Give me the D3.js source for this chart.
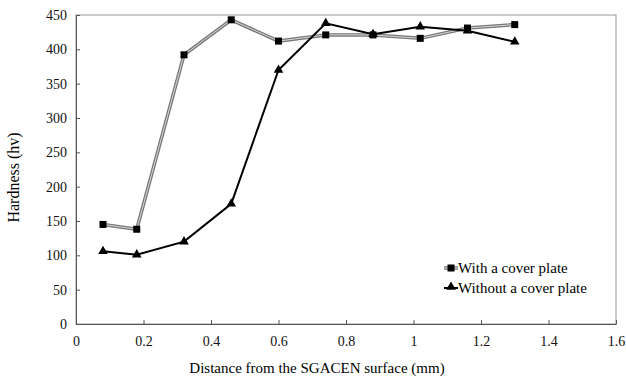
<!DOCTYPE html>
<html>
<head>
<meta charset="utf-8">
<script src="https://cdn.jsdelivr.net/npm/d3@7"></script>
<style>
  body { margin: 0; background: #fff; }
</style>
</head>
<body>
<div id="chart"></div>
<script>
// distance from surface (mm)
const distance = [0.08, 0.18, 0.32, 0.46, 0.60, 0.74, 0.88, 1.02, 1.16, 1.30];
const withCover = [145, 138, 392, 443, 412, 421, 421, 416, 431, 436];
const withoutCover = [106, 101, 120, 175, 370, 438, 422, 433, 427, 411];
const xTicks = [0, 0.2, 0.4, 0.6, 0.8, 1, 1.2, 1.4, 1.6];
const yTicks = [0, 50, 100, 150, 200, 250, 300, 350, 400, 450];

const FONT = "'Liberation Serif', 'DejaVu Serif', serif";
const width = 626, height = 378;
const margin = { top: 15, right: 10, bottom: 54, left: 76 };
const w = width - margin.left - margin.right;
const h = height - margin.top - margin.bottom;

const svg = d3.select("#chart").append("svg")
   .attr("width", width)
   .attr("height", height)
   .attr("font-family", FONT);

const g = svg.append("g")
   .attr("transform", "translate(" + margin.left + "," + margin.top + ")");

const xScale = d3.scaleLinear().domain([0, 1.6]).range([0, w]);
const yScale = d3.scaleLinear().domain([0, 450]).range([h, 0]);

// plot frame
g.append("rect")
   .attr("width", w).attr("height", h)
   .attr("fill", "none").attr("stroke", "#999").attr("stroke-width", 1);

const xAxis = d3.axisBottom(xScale).tickValues(xTicks)
   .tickFormat(d3.format("")).tickSizeInner(-4).tickSizeOuter(0).tickPadding(12);
const yAxis = d3.axisLeft(yScale).tickValues(yTicks)
   .tickSizeInner(-4).tickSizeOuter(0).tickPadding(9);

const gx = g.append("g").attr("transform", "translate(0," + h + ")").call(xAxis);
const gy = g.append("g").call(yAxis);
[gx, gy].forEach(a => {
   a.attr("font-family", FONT).attr("font-size", 14);
   a.select(".domain").attr("stroke", "#555");
   a.selectAll(".tick line").attr("stroke", "#555");
   a.selectAll(".tick text").attr("fill", "#111");
});

const line = d3.line().x((d, i) => xScale(distance[i])).y(d => yScale(d));

// with a cover plate: double gray line
g.append("path").datum(withCover).attr("d", line)
   .attr("fill", "none").attr("stroke", "#777").attr("stroke-width", 3.5);
g.append("path").datum(withCover).attr("d", line)
   .attr("fill", "none").attr("stroke", "#d8d8d8").attr("stroke-width", 1);

g.append("path").datum(withoutCover).attr("d", line)
   .attr("fill", "none").attr("stroke", "#000").attr("stroke-width", 2);

g.selectAll(".sq").data(withCover).enter().append("rect")
   .attr("x", (d, i) => xScale(distance[i]) - 3.5)
   .attr("y", d => yScale(d) - 3.5)
   .attr("width", 7).attr("height", 7).attr("fill", "#000");

const tri = d3.symbol().type(d3.symbolTriangle).size(40);
g.selectAll(".tri").data(withoutCover).enter().append("path")
   .attr("d", tri)
   .attr("transform", (d, i) => "translate(" + xScale(distance[i]) + "," + yScale(d) + ")")
   .attr("fill", "#000");

// legend
const legend = svg.append("g").attr("transform", "translate(444,268)");
legend.append("line").attr("x1", 0).attr("x2", 14).attr("y1", 0).attr("y2", 0)
   .attr("stroke", "#777").attr("stroke-width", 3.5);
legend.append("line").attr("x1", 0).attr("x2", 14).attr("y1", 0).attr("y2", 0)
   .attr("stroke", "#d8d8d8").attr("stroke-width", 1);
legend.append("rect").attr("x", 3.5).attr("y", -3.5).attr("width", 7).attr("height", 7).attr("fill", "#000");
legend.append("text").attr("x", 14).attr("y", 5).attr("font-size", 15).text("With a cover plate");

legend.append("line").attr("x1", 0).attr("x2", 14).attr("y1", 20).attr("y2", 20)
   .attr("stroke", "#000").attr("stroke-width", 2);
legend.append("path").attr("d", tri).attr("transform", "translate(7,19)").attr("fill", "#000");
legend.append("text").attr("x", 14).attr("y", 25).attr("font-size", 15).text("Without a cover plate");

// axis titles
svg.append("text")
   .attr("x", 317).attr("y", 373)
   .attr("text-anchor", "middle").attr("font-size", 15)
   .text("Distance from the SGACEN surface (mm)");

svg.append("text")
   .attr("transform", "rotate(-90)")
   .attr("x", -(margin.top + h / 2 + 8)).attr("y", 19)
   .attr("text-anchor", "middle").attr("font-size", 16)
   .text("Hardness (hv)");
</script>
</body>
</html>
